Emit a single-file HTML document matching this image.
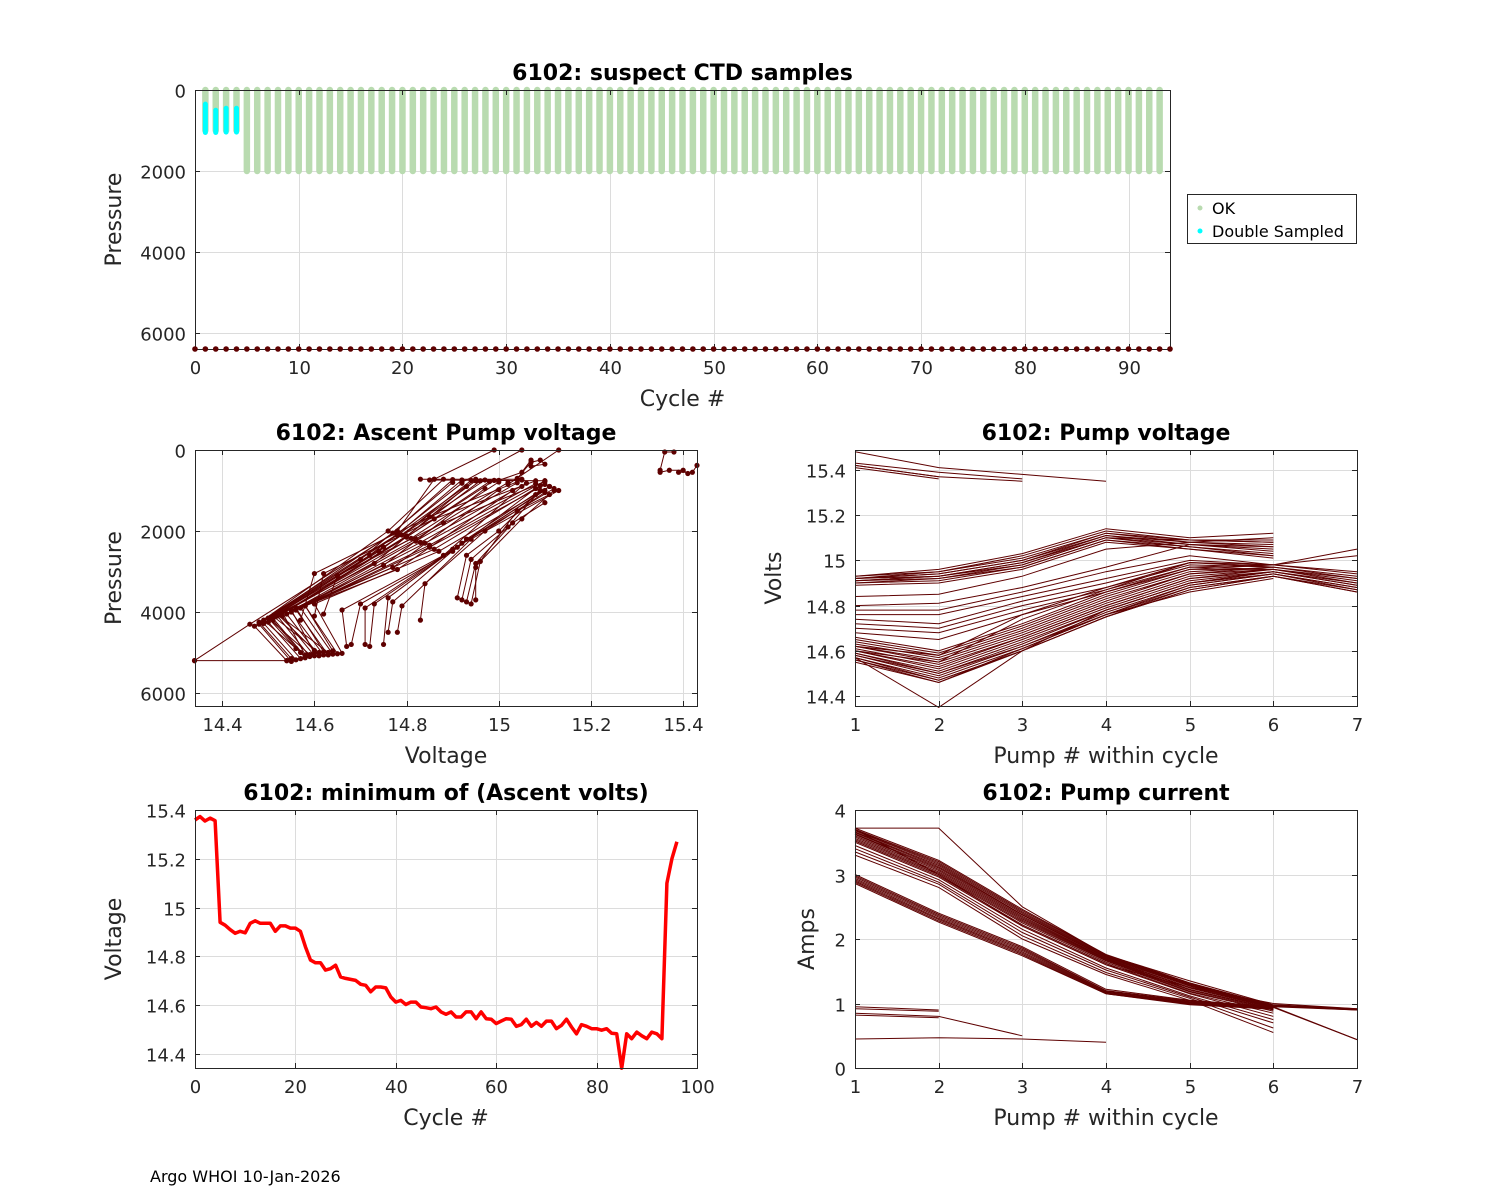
<!DOCTYPE html>
<html><head><meta charset="utf-8"><title>6102 diagnostics</title>
<style>
html,body{margin:0;padding:0;background:#fff;}
svg{display:block;font-family:"DejaVu Sans","Liberation Sans",sans-serif;}
</style></head>
<body>
<svg id="fig" width="1500" height="1200" viewBox="0 0 1500 1200">
<rect x="0" y="0" width="1500" height="1200" fill="#fff"/>
<text x="150" y="1182" font-size="16" fill="#000">Argo WHOI 10-Jan-2026</text>
<g>
<rect x="1187.5" y="194.5" width="169" height="49" fill="#fff" stroke="#262626" stroke-width="1"/>
<circle cx="1200" cy="208" r="2.5" fill="#b9dbb0"/>
<text x="1212" y="214" font-size="16" fill="#000">OK</text>
<circle cx="1200" cy="231" r="2.5" fill="#00ffff"/>
<text x="1212" y="237" font-size="16" fill="#000">Double Sampled</text>
</g>
</svg>
<script>
// ---------- DATA ----------
const okCycles = [1,2,3,4,5,6,7,8,9,10,11,12,13,14,15,16,17,18,19,20,21,22,23,24,25,26,27,28,29,30,31,32,33,34,35,36,37,38,39,40,41,42,43,44,45,46,47,48,49,50,51,52,53,54,55,56,57,58,59,60,61,62,63,64,65,66,67,68,69,70,71,72,73,74,75,76,77,78,79,80,81,82,83,84,85,86,87,88,89,90,91,92,93];
const okMaxPres = [1000,1000,1000,1000,2000,2000,2000,2000,2000,2000,2000,2000,2000,2000,2000,2000,2000,2000,2000,2000,2000,2000,2000,2000,2000,2000,2000,2000,2000,2000,2000,2000,2000,2000,2000,2000,2000,2000,2000,2000,2000,2000,2000,2000,2000,2000,2000,2000,2000,2000,2000,2000,2000,2000,2000,2000,2000,2000,2000,2000,2000,2000,2000,2000,2000,2000,2000,2000,2000,2000,2000,2000,2000,2000,2000,2000,2000,2000,2000,2000,2000,2000,2000,2000,2000,2000,2000,2000,2000,2000,2000,2000,2000];
const dsCycles = [1,2,3,4];
const dsTop = [350,500,450,450];
const dsBottom = [1050,1050,1040,1040];
const bottomCycles = [0,1,2,3,4,5,6,7,8,9,10,11,12,13,14,15,16,17,18,19,20,21,22,23,24,25,26,27,28,29,30,31,32,33,34,35,36,37,38,39,40,41,42,43,44,45,46,47,48,49,50,51,52,53,54,55,56,57,58,59,60,61,62,63,64,65,66,67,68,69,70,71,72,73,74,75,76,77,78,79,80,81,82,83,84,85,86,87,88,89,90,91,92,93,94];
const bottomPres = 6395;
const topXTicks = [0,10,20,30,40,50,60,70,80,90];
const topYTicks = [0,2000,4000,6000];

const ascentProfiles = [
 [[14.34,5200],[14.46,4300],[14.78,2000],[14.86,720]],
 [[14.34,5200],[14.54,5200]],
 [[14.54,5200],[14.47,4350],[14.76,2000],[14.88,720]],
 [[14.55,5220],[14.48,4300],[14.77,2050],[14.90,730]],
 [[14.55,5150],[14.48,4250],[14.78,2080],[14.92,740]],
 [[14.56,5180],[14.49,4280],[14.79,2100],[14.94,750]],
 [[14.57,5150],[14.50,4250],[14.80,2120],[14.96,760]],
 [[14.58,5130],[14.51,4200],[14.80,2150],[14.98,780]],
 [[14.58,5100],[14.51,4150],[14.81,2180],[15.00,790]],
 [[14.59,5100],[14.52,4100],[14.82,2200],[15.02,800]],
 [[14.60,5080],[14.53,4100],[14.82,2250],[15.04,810]],
 [[14.61,5080],[14.54,4050],[14.83,2280],[15.06,820]],
 [[14.62,5060],[14.55,4000],[14.84,2300],[15.08,830]],
 [[14.63,5060],[14.56,3950],[14.85,2350],[15.10,760]],
 [[14.64,5040],[14.57,3900],[14.85,2400],[15.10,850]],
 [[14.65,5030],[14.58,3850],[14.86,2450],[15.09,880]],
 [[14.66,5020],[14.60,3800],[14.87,2500],[15.11,900]],
 [[14.56,4900],[14.50,4150],[14.78,2100],[14.95,720]],
 [[14.60,4950],[14.52,4050],[14.80,2150],[14.99,750]],
 [[14.57,5000],[14.49,4200],[14.70,2700],[14.90,800]],
 [[14.59,5050],[14.50,4150],[14.72,2600],[14.92,820]],
 [[14.61,5000],[14.51,4100],[14.74,2500],[14.95,760]],
 [[14.63,5000],[14.52,4050],[14.75,2400],[14.97,740]],
 [[14.58,5060],[14.53,4000],[14.73,2800],[14.93,900]],
 [[14.60,5020],[14.55,3950],[14.75,2850],[14.97,950]],
 [[14.62,4980],[14.56,3900],[14.77,2900],[15.00,980]],
 [[14.64,4960],[14.58,3850],[14.78,2950],[15.03,1000]],
 [[14.57,4200],[14.60,3050],[14.85,1650],[15.05,740]],
 [[14.60,4100],[14.62,3050],[14.86,1700],[15.08,760]],
 [[14.62,4050],[14.65,3100],[14.88,1800],[15.10,780]],
 [[14.67,4850],[14.66,3950],[14.88,2600],[15.05,900]],
 [[14.68,4800],[14.70,3800],[14.90,2500],[15.08,950]],
 [[14.71,4800],[14.71,3900],[14.90,2450],[15.10,1000]],
 [[14.72,4850],[14.73,3800],[14.91,2400],[15.11,900]],
 [[14.75,4800],[14.76,3650],[14.92,2300],[15.12,950]],
 [[14.76,4500],[14.77,3750],[14.93,2200],[15.09,1000]],
 [[14.78,4500],[14.79,3850],[14.94,2200],[15.13,1000]],
 [[14.83,4200],[14.84,3300],[14.97,2000],[15.10,1050]],
 [[14.91,3650],[14.93,2600],[15.00,2000],[15.08,1100]],
 [[14.92,3700],[14.94,2700],[15.02,1900],[15.09,1000]],
 [[14.93,3750],[14.95,2800],[15.03,1800],[15.10,1300]],
 [[14.94,3800],[14.96,2750],[15.05,1700],[15.12,1000]],
 [[14.95,3700],[14.95,2900],[15.04,1500],[15.11,1100]],
 [[14.86,720],[14.99,0]],
 [[14.92,800],[15.05,0]],
 [[15.02,850],[15.13,0]],
 [[15.04,700],[15.07,300],[15.09,250],[15.10,350],[15.07,400]],
 [[15.00,750],[15.05,550],[15.07,250]],
 [[14.83,720],[15.05,720]],
 [[14.85,740],[15.10,760]],
 [[15.35,500],[15.36,50],[15.38,50]],
 [[15.39,550],[15.42,550],[15.43,380]],
 [[15.35,550],[15.37,500],[15.40,500],[15.41,580]]
];
const ascXTicks = [14.4,14.6,14.8,15,15.2,15.4];
const ascYTicks = [0,2000,4000,6000];

const pumpVolts = [
 [15.48,15.41,15.38,15.35],[15.43,15.39,15.36],[15.42,15.37,15.35],[15.41,15.36],[15.42,15.37],
 [14.93,14.96,15.03,15.14,15.10,15.12],[14.93,14.95,15.02,15.13,15.09,15.09],[14.92,14.95,15.01,15.12,15.09,15.08],
 [14.92,14.94,15.00,15.12,15.08,15.07],[14.92,14.94,15.00,15.11,15.08,15.06],[14.91,14.93,14.99,15.11,15.07,15.05],
 [14.91,14.93,14.98,15.10,15.07,15.04],[14.91,14.92,14.98,15.10,15.06,15.03],[14.90,14.92,14.97,15.09,15.06,15.02],
 [14.90,14.91,14.97,15.09,15.05,15.01],[14.92,14.93,14.99,15.10,15.09,15.08],[14.89,14.90,14.96,15.08,15.05,15.02],
 [14.84,14.85,14.93,15.05,15.08,15.10],[14.80,14.81,14.88,14.97,15.07,15.06],[14.78,14.78,14.86,14.95,15.02,14.98],
 [14.76,14.76,14.84,14.92,15.00,14.98],[14.74,14.72,14.82,14.90,14.99,14.97],[14.72,14.70,14.80,14.88,14.98,14.97],
 [14.70,14.68,14.78,14.87,14.97,14.96],[14.68,14.65,14.76,14.86,14.96,14.96],
 [14.66,14.60,14.72,14.86,14.97,14.98,14.95],[14.65,14.59,14.71,14.85,14.96,14.98,14.94],[14.64,14.58,14.70,14.84,14.95,14.97,14.93],
 [14.63,14.57,14.69,14.83,14.94,14.97,14.92],[14.62,14.56,14.68,14.82,14.94,14.96,14.92],[14.62,14.55,14.67,14.81,14.93,14.96,14.91],
 [14.61,14.54,14.66,14.80,14.92,14.96,14.90],[14.60,14.53,14.66,14.80,14.92,14.95,14.90],[14.60,14.52,14.65,14.79,14.91,14.95,14.89],
 [14.59,14.51,14.64,14.78,14.90,14.95,14.89],[14.59,14.50,14.63,14.78,14.90,14.94,14.88],[14.58,14.50,14.62,14.77,14.89,14.94,14.88],
 [14.58,14.49,14.62,14.76,14.89,14.94,14.87],[14.57,14.48,14.61,14.76,14.88,14.93,14.87],[14.57,14.47,14.60,14.75,14.88,14.93,14.86],
 [14.56,14.47,14.60,14.75,14.87,14.93,14.86],[14.56,14.46,14.60,14.75,14.87,14.93],[14.55,14.46,14.61,14.76,14.86,14.92],
 [14.57,14.35,14.60,14.78,14.90,14.95],[14.60,14.55,14.74,14.87,14.99,14.98,15.05],[14.62,14.58,14.76,14.88,14.99,14.98,15.02]
];
const pvXTicks = [1,2,3,4,5,6,7];
const pvYTicks = [14.4,14.6,14.8,15,15.2,15.4];

const pumpAmps = [
 [3.72,3.22,2.46,1.76,1.32,0.97,0.91],[3.70,3.20,2.44,1.75,1.31,0.96,0.91],[3.69,3.18,2.42,1.74,1.30,0.96,0.90],
 [3.68,3.16,2.40,1.73,1.29,0.95,0.90],[3.66,3.14,2.38,1.72,1.28,0.95,0.44],[3.65,3.12,2.37,1.71,1.27,0.94,0.44],
 [3.63,3.10,2.35,1.70,1.25,0.94],[3.62,3.08,2.33,1.69,1.24,0.93],[3.60,3.06,2.31,1.68,1.22,0.92],
 [3.58,3.04,2.29,1.67,1.21,0.91],[3.56,3.02,2.27,1.66,1.19,0.90],[3.54,3.00,2.25,1.64,1.18,0.88],
 [3.52,2.98,2.22,1.62,1.16,0.85],[3.50,2.96,2.20,1.60,1.15,0.80],[3.45,2.92,2.15,1.55,1.12,0.75],
 [3.40,2.88,2.10,1.52,1.10,0.70],[3.35,2.85,2.05,1.48,1.08,0.62],[3.30,2.80,2.00,1.45,1.05,0.55],
 [3.72,3.72,2.50,1.75,1.35,0.98,0.92],[3.70,3.00,2.20,1.60,1.25,1.00,0.92],
 [3.00,2.40,1.88,1.22,1.05,0.95],[2.98,2.38,1.86,1.20,1.04,0.94],[2.96,2.36,1.84,1.19,1.03,0.94],
 [2.94,2.34,1.82,1.18,1.02,0.93],[2.92,2.32,1.80,1.17,1.01,0.93],[2.90,2.30,1.78,1.16,1.00,0.92],
 [2.88,2.28,1.76,1.15,0.99,0.92],[2.86,2.26,1.74,1.15,0.98,0.91],
 [0.95,0.90],[0.92,0.88],[0.85,0.80,0.50],[0.82,0.78],[0.45,0.47,0.45,0.40]
];
const paXTicks = [1,2,3,4,5,6,7];
const paYTicks = [0,1,2,3,4];

const minCycles = [0,1,2,3,4,5,6,7,8,9,10,11,12,13,14,15,16,17,18,19,20,21,22,23,24,25,26,27,28,29,30,31,32,33,34,35,36,37,38,39,40,41,42,43,44,45,46,47,48,49,50,51,52,53,54,55,56,57,58,59,60,61,62,63,64,65,66,67,68,69,70,71,72,73,74,75,76,77,78,79,80,81,82,83,84,85,86,87,88,89,90,91,92,93,94,95,96];
const minVolts = [15.359,15.373,15.355,15.367,15.356,14.94,14.928,14.91,14.895,14.903,14.897,14.936,14.946,14.936,14.936,14.936,14.903,14.925,14.925,14.916,14.916,14.903,14.84,14.785,14.774,14.774,14.744,14.75,14.764,14.716,14.71,14.706,14.702,14.686,14.682,14.655,14.675,14.675,14.671,14.634,14.613,14.62,14.603,14.613,14.613,14.593,14.59,14.586,14.593,14.573,14.563,14.573,14.552,14.552,14.573,14.573,14.545,14.573,14.545,14.543,14.525,14.535,14.545,14.543,14.514,14.521,14.543,14.514,14.53,14.514,14.535,14.535,14.504,14.518,14.543,14.511,14.483,14.521,14.514,14.504,14.504,14.498,14.504,14.485,14.483,14.342,14.483,14.463,14.49,14.475,14.463,14.49,14.483,14.463,15.10,15.20,15.27];
const mvXTicks = [0,20,40,60,80,100];
const mvYTicks = [14.4,14.6,14.8,15,15.2,15.4];

// ---------- DRAWING ----------
const NS = 'http://www.w3.org/2000/svg';
const svg = document.getElementById('fig');
const DARK = '#5e0000';
function mk(tag, attrs, parent){
  const e = document.createElementNS(NS, tag);
  for (const k in attrs) e.setAttribute(k, attrs[k]);
  (parent||svg).appendChild(e);
  return e;
}
function fmt(v){ return String(+v.toFixed(2)); }
function linScale(d0,d1,r0,r1){ return v => r0 + (v-d0)/(d1-d0)*(r1-r0); }

function makeAxes(name, box, xd, yd, yRev, xTicks, yTicks, title, xlabel, ylabel, ylabX){
  const g = mk('g', {});
  
  
  const sx = linScale(xd[0], xd[1], box.x, box.x+box.w);
  const sy = yRev ? linScale(yd[0], yd[1], box.y, box.y+box.h) : linScale(yd[0], yd[1], box.y+box.h, box.y);
  mk('rect', {x:box.x, y:box.y, width:box.w, height:box.h, fill:'#fff'}, g);
  const grid = mk('g', {stroke:'#dcdcdc', 'stroke-width':1}, g);
  
  
  xTicks.forEach(t => { const x = Math.round(sx(t))+0.5; mk('line', {x1:x, x2:x, y1:box.y, y2:box.y+box.h}, grid); });
  yTicks.forEach(t => { const y = Math.round(sy(t))+0.5; mk('line', {x1:box.x, x2:box.x+box.w, y1:y, y2:y}, grid); });
  const plot = mk('g', {}, g);
  
  
  const frame = mk('g', {}, g);
  return {g, plot, frame, sx, sy, box, finish: function(){
    const fr = mk('rect', {x:box.x+0.5, y:box.y+0.5, width:box.w, height:box.h, fill:'none', stroke:'#262626', 'stroke-width':1}, frame);
    
    
    const xt = mk('g', {'font-size':18, fill:'#262626', 'text-anchor':'middle'}, frame);
    
    
    xTicks.forEach(t => {
      const x = Math.round(sx(t))+0.5;
      mk('line', {x1:x, x2:x, y1:box.y+box.h, y2:box.y+box.h-5, stroke:'#262626'}, xt);
      mk('line', {x1:x, x2:x, y1:box.y, y2:box.y+5, stroke:'#262626'}, xt);
      const tx = mk('text', {x:x, y:box.y+box.h+25}, xt);
      tx.textContent = fmt(t);
    });
    const yt = mk('g', {'font-size':18, fill:'#262626', 'text-anchor':'end'}, frame);
    
    
    yTicks.forEach(t => {
      const y = Math.round(sy(t))+0.5;
      mk('line', {x1:box.x, x2:box.x+5, y1:y, y2:y, stroke:'#262626'}, yt);
      mk('line', {x1:box.x+box.w, x2:box.x+box.w-5, y1:y, y2:y, stroke:'#262626'}, yt);
      const ty = mk('text', {x:box.x-9, y:y+7}, yt);
      ty.textContent = fmt(t);
    });
    const ti = mk('text', {x:box.x+box.w/2, y:box.y-10, 'font-size':22, 'font-weight':'bold', 'text-anchor':'middle', fill:'#000'}, frame);
    
    
    ti.textContent = title;
    const xl = mk('text', {x:box.x+box.w/2, y:box.y+box.h+57, 'font-size':22, 'text-anchor':'middle', fill:'#262626'}, frame);
    
    
    xl.textContent = xlabel;
    const cy = box.y+box.h/2;
    const yl = mk('text', {x:ylabX, y:cy, 'font-size':22, 'text-anchor':'middle', fill:'#262626', transform:'rotate(-90 '+ylabX+' '+cy+')'}, frame);
    
    
    yl.textContent = ylabel;
  }};
}

(function(){
  const ax = makeAxes('ctd-samples-chart', {x:195,y:90,w:975,h:259}, [0,94], [0,6395], true, topXTicks, topYTicks,
    '6102: suspect CTD samples', 'Cycle #', 'Pressure', 121);
  okCycles.forEach((c,i) => {
    const x = ax.sx(c);
    const b = mk('line', {x1:x, x2:x, y1:ax.sy(0), y2:ax.sy(okMaxPres[i]), stroke:'#b9dbb0', 'stroke-width':6.5, 'stroke-linecap':'round'}, ax.plot);
    
    
  });
  dsCycles.forEach((c,i) => {
    const x = ax.sx(c);
    const b = mk('line', {x1:x, x2:x, y1:ax.sy(dsTop[i]), y2:ax.sy(dsBottom[i]), stroke:'#00ffff', 'stroke-width':5, 'stroke-linecap':'round'}, ax.plot);
    
    
  });
  ax.finish();
  bottomCycles.forEach(c => {
    const d = mk('circle', {cx:ax.sx(c), cy:ax.sy(bottomPres), r:2.8, fill:DARK}, svg);
    
    
  });
})();

(function(){
  const ax = makeAxes('ascent-pump-voltage-chart', {x:195,y:450,w:502,h:256}, [14.341,15.43], [0,6320], true, ascXTicks, ascYTicks,
    '6102: Ascent Pump voltage', 'Voltage', 'Pressure', 121);
  ascentProfiles.forEach((prof,i) => {
    const pts = prof.map(p => ax.sx(p[0]).toFixed(1)+','+ax.sy(p[1]).toFixed(1)).join(' ');
    const pl = mk('polyline', {points:pts, fill:'none', stroke:DARK, 'stroke-width':1}, ax.plot);
    
    
    prof.forEach(p => {
      const m = mk('circle', {cx:ax.sx(p[0]), cy:ax.sy(p[1]), r:2.6, fill:DARK}, ax.plot);
      
      
    });
  });
  ax.finish();
})();

(function(){
  const ax = makeAxes('pump-voltage-chart', {x:855,y:450,w:502,h:256}, [1,7], [14.356,15.488], false, pvXTicks, pvYTicks,
    '6102: Pump voltage', 'Pump # within cycle', 'Volts', 781);
  pumpVolts.forEach((s,i) => {
    const pts = s.map((v,k) => ax.sx(k+1).toFixed(1)+','+ax.sy(v).toFixed(1)).join(' ');
    const pl = mk('polyline', {points:pts, fill:'none', stroke:DARK, 'stroke-width':1}, ax.plot);
    
    
  });
  ax.finish();
})();

(function(){
  const ax = makeAxes('minimum-ascent-volts-chart', {x:195,y:810,w:502,h:258}, [0,100], [14.343,15.4], false, mvXTicks, mvYTicks,
    '6102: minimum of (Ascent volts)', 'Cycle #', 'Voltage', 121);
  const pts = minCycles.map((c,i) => ax.sx(c).toFixed(1)+','+ax.sy(minVolts[i]).toFixed(1)).join(' ');
  const pl = mk('polyline', {points:pts, fill:'none', stroke:'#ff0000', 'stroke-width':3.5, 'stroke-linejoin':'round'}, ax.plot);
  
  
  ax.finish();
})();

(function(){
  const ax = makeAxes('pump-current-chart', {x:855,y:810,w:502,h:258}, [1,7], [0,4], false, paXTicks, paYTicks,
    '6102: Pump current', 'Pump # within cycle', 'Amps', 814);
  pumpAmps.forEach((s,i) => {
    const pts = s.map((v,k) => ax.sx(k+1).toFixed(1)+','+ax.sy(v).toFixed(1)).join(' ');
    const pl = mk('polyline', {points:pts, fill:'none', stroke:DARK, 'stroke-width':1}, ax.plot);
    
    
  });
  ax.finish();
})();
</script>
</body></html>
